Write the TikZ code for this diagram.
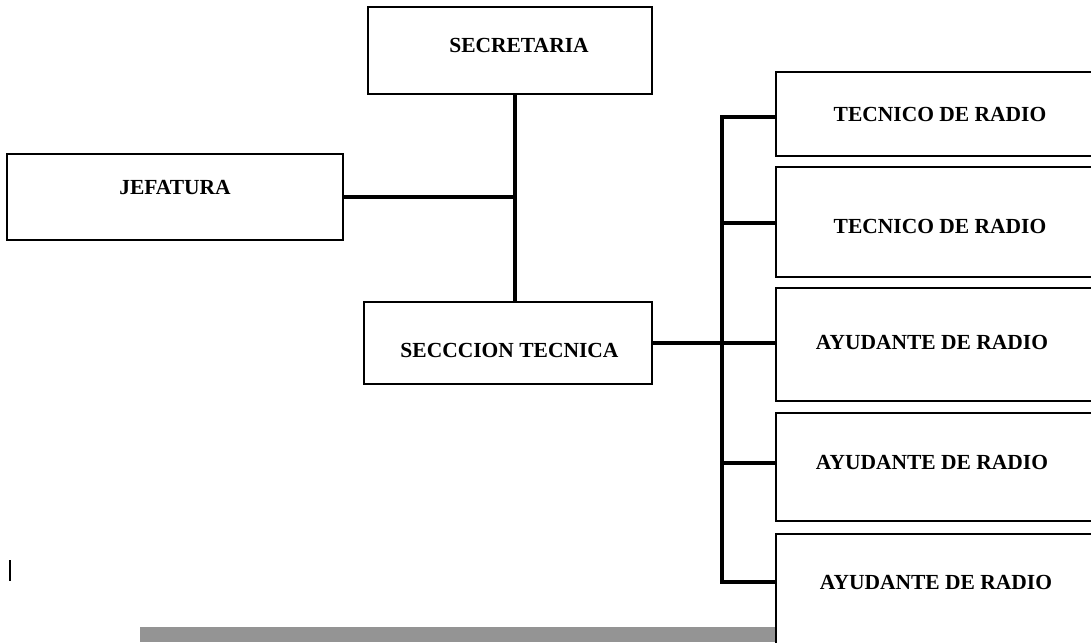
\documentclass[tikz,border=0pt]{standalone}
\usepackage{fontspec}
\setmainfont{Liberation Serif}
\begin{document}
\begin{tikzpicture}[x=1pt,y=-1pt,
  box/.style={draw=black,line width=2pt,fill=white,inner sep=0pt},
  lbl/.style={font=\fontsize{21.5}{24}\selectfont\bfseries,inner sep=0pt,text=black},
  conn/.style={draw=black,line width=3.2pt}]
\useasboundingbox (0,0) rectangle (1091,642);
\clip (0,0) rectangle (1091,642);
% boxes (centres and sizes in pixels)
\node[box,minimum width=284,minimum height=87] (sec) at (510,50.5) {};
\node[box,minimum width=336,minimum height=86] (jef) at (175,197) {};
\node[box,minimum width=288,minimum height=82] (st) at (508,343) {};
\node[box,minimum width=330,minimum height=84] (r1) at (941,114) {};
\node[box,minimum width=330,minimum height=110] (r2) at (941,222) {};
\node[box,minimum width=330,minimum height=113] (r3) at (941,344.5) {};
\node[box,minimum width=330,minimum height=108] (r4) at (941,467) {};
\node[box,minimum width=330,minimum height=130] (r5) at (941,599) {};
% labels
\node[lbl] (tsec) at (519,45) {SECRETARIA};
\node[lbl] (tjef) at (175,188) {JEFATURA};
\node[lbl] (tst) at (509.5,350) {SECCCION TECNICA};
\node[lbl] (tr1) at (940,114) {TECNICO DE RADIO};
\node[lbl] (tr2) at (940,226) {TECNICO DE RADIO};
\node[lbl] (tr3) at (932,342.5) {AYUDANTE DE RADIO};
\node[lbl] (tr4) at (932,462.5) {AYUDANTE DE RADIO};
\node[lbl] (tr5) at (936,582.5) {AYUDANTE DE RADIO};
% connectors
\coordinate (jx) at (515,197);
\draw[conn] (jef.east) -- (jx);
\draw[conn] (sec.south -| jx) -- (st.north -| jx);
\coordinate (b1) at (722,117);
\coordinate (b2) at (722,223);
\coordinate (b3) at (722,343);
\coordinate (b4) at (722,463);
\coordinate (b5) at (722,582);
\draw[conn] (st.east |- b3) -- (b3 -| r3.west);
\draw[conn] (b1 -| r1.west) -- (b1) -- (b5) -- (b5 -| r5.west);
\draw[conn] (b2) -- (b2 -| r2.west);
\draw[conn] (b4) -- (b4 -| r4.west);
% gray band and mark
\fill[black!42] (140,627) rectangle (r5.west |- 0,642);
\draw[line width=2.6pt] (10,560) -- (10,581);
\end{tikzpicture}
\end{document}
